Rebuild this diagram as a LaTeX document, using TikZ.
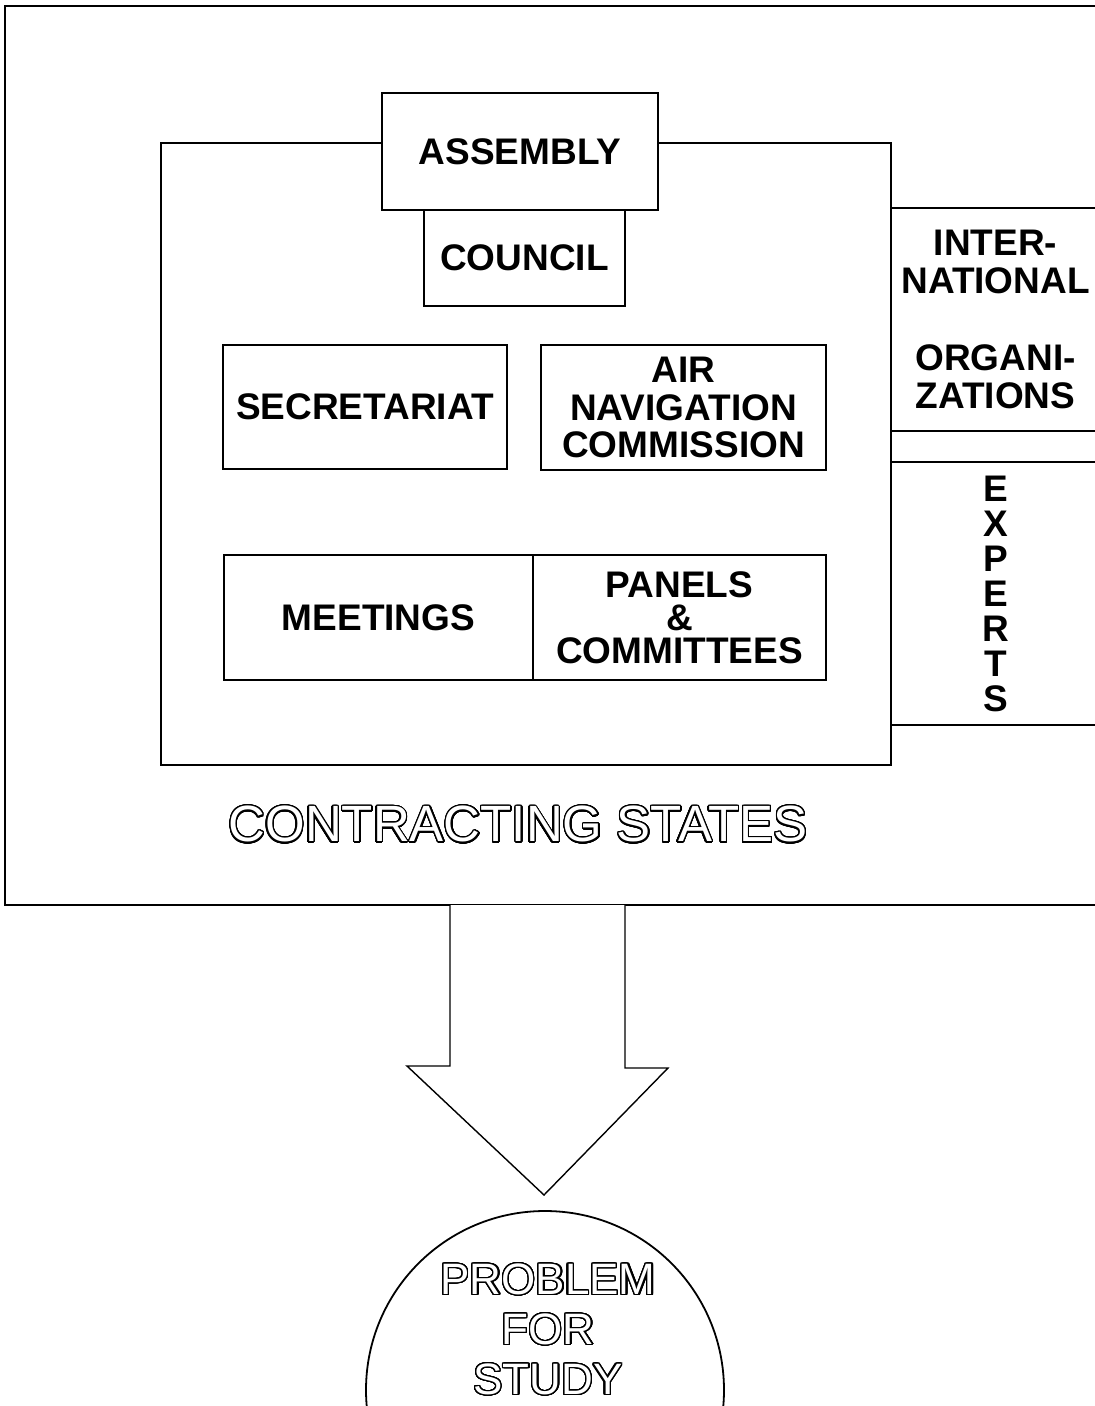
\documentclass[tikz,border=0pt]{standalone}
\usepackage{fontspec}
\setmainfont{Liberation Sans}
\usepackage[copies]{contour}
\contourlength{1.4pt}
\contournumber{32}
\newcommand{\hollow}[1]{\contour{black}{\textcolor{white}{#1}}}

\begin{document}
\begin{tikzpicture}[x = 1pt, y = -1pt]
	\tikzstyle{boxStyle} = [draw, line width = 1.8pt, fill = white, inner sep = 0pt, align = center, font = \fontsize{37}{37.5}\selectfont\bfseries]
	\tikzstyle{frameStyle} = [draw, line width = 2.8pt]
	\tikzstyle{hollowStyle} = [inner sep = 0pt, align = center]
	\useasboundingbox (0,0) rectangle (1095,1406);
	\clip (0,0) rectangle (1095,1406);
	\fill[white] (0,0) rectangle (1095,1406);
	\draw[frameStyle] (5,6) rectangle (1130,905);
	\draw[line width = 2pt] (161,143) rectangle (891,765);
	\node[boxStyle, minimum width = 201pt, minimum height = 96pt] (council) at (524.5,258) {COUNCIL};
	\node[boxStyle, minimum width = 276pt, minimum height = 117pt] (assembly) at (520,151.5) {ASSEMBLY};
	\node[boxStyle, minimum width = 284pt, minimum height = 124pt] (secretariat) at (365,407) {SECRETARIAT};
	\node[boxStyle, minimum width = 285pt, minimum height = 125pt] (anc) at (683.5,407.5) {AIR\\NAVIGATION\\COMMISSION};
	\node[boxStyle, minimum width = 309pt, minimum height = 125pt] (meetings) at (378.5,617.5) {MEETINGS};
	\node[boxStyle, minimum width = 293pt, minimum height = 125pt, font = \fontsize{37}{33}\selectfont\bfseries] (panels) at (679.5,617.5) {PANELS\\\&\\COMMITTEES};
	\node[boxStyle, minimum width = 209pt, minimum height = 223pt] (intl) at (995.5,319.5) {INTER-\\NATIONAL\\[40pt]ORGANI-\\ZATIONS};
	\node[boxStyle, minimum width = 209pt, minimum height = 263pt, font = \fontsize{37}{35}\selectfont\bfseries] (experts) at (995.5,593.5) {E\\X\\P\\E\\R\\T\\S};
	\node[hollowStyle, font = \fontsize{51}{51}\selectfont] (states) at (518,825) {\hollow{CONTRACTING STATES}};
	\draw[line width = 1.4pt, fill = white] (450,905) -- (450,1066) -- (407,1066) -- (544,1195) -- (668,1068) -- (625,1068) -- (625,905);
	\draw[line width = 1.8pt] (545,1390) circle (179pt);
	\node[hollowStyle, font = \fontsize{44}{50}\selectfont] (problem) at (548,1330) {\hollow{PROBLEM}\\\hollow{FOR}\\\hollow{STUDY}};
\end{tikzpicture}
\end{document}
